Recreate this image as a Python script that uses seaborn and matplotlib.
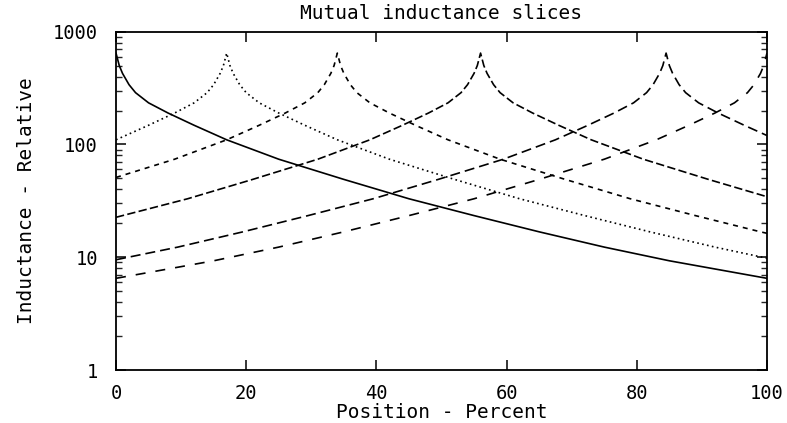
import matplotlib
matplotlib.use("Agg")
import matplotlib.pyplot as plt
import matplotlib.ticker as mticker
import seaborn as sns
import pandas as pd

# ---- data ----
x_a = [0, 0.5, 1, 2, 3, 5, 8, 12, 17, 25, 35, 45, 55, 65, 75, 85, 100]
y_a = [646, 501, 427, 339, 288, 234, 190, 148, 110, 74, 49, 33, 23.4, 16.8, 12.3, 9.3, 6.5]

x_b = [0, 5, 9, 12, 14, 15, 16, 16.5, 17, 17.5, 18, 19, 20, 22, 25, 29, 34, 42, 52, 62, 72, 82, 92, 100]
y_b = [110, 148, 190, 234, 288, 339, 427, 501, 646, 501, 427, 339, 288, 234, 190, 148, 110, 74, 49, 33, 23.4, 16.8, 12.3, 9.8]

x_c = [0, 9, 17, 22, 26, 29, 31, 32, 33, 33.5, 34, 34.5, 35, 36, 37, 39, 42, 46, 51, 59, 69, 79, 89, 99, 100]
y_c = [51, 74, 110, 148, 190, 234, 288, 339, 427, 501, 646, 501, 427, 339, 288, 234, 190, 148, 110, 74, 49, 33, 23.4, 16.8, 16.3]

x_d = [0, 1, 11, 21, 31, 39, 44, 48, 51, 53, 54, 55, 55.5, 56, 56.5, 57, 58, 59, 61, 64, 68, 73, 81, 91, 100]
y_d = [22.6, 23.4, 33, 49, 74, 110, 148, 190, 234, 288, 339, 427, 501, 646, 501, 427, 339, 288, 234, 190, 148, 110, 74, 49, 34.4]

x_e = [0, 9.5, 19.5, 29.5, 39.5, 49.5, 59.5, 67.5, 72.5, 76.5, 79.5, 81.5, 82.5, 83.5, 84, 84.5, 85, 85.5, 86.5, 87.5, 89.5, 92.5, 96.5, 100]
y_e = [9.5, 12.3, 16.8, 23.4, 33, 49, 74, 110, 148, 190, 234, 288, 339, 427, 501, 646, 501, 427, 339, 288, 234, 190, 148, 120]

x_f = [0, 15, 25, 35, 45, 55, 65, 75, 83, 88, 92, 95, 97, 98, 99, 99.5, 100]
y_f = [6.5, 9.3, 12.3, 16.8, 23.4, 33, 49, 74, 110, 148, 190, 234, 288, 339, 427, 501, 646]

x_ticks = [0, 20, 40, 60, 80, 100]
y_ticks = [1, 10, 100, 1000]
y_tick_labels = ["1", "10", "100", "1000"]

series = [(x_a, y_a), (x_b, y_b), (x_c, y_c), (x_d, y_d), (x_e, y_e), (x_f, y_f)]
styles = ["-", (0, (1, 2)), (0, (3, 3)), (0, (5, 2)), (0, (6, 3)), (0, (6, 6))]

sns.set_style("ticks")
plt.rcParams["font.family"] = ["DejaVu Sans Mono"]
plt.rcParams["text.color"] = "black"
plt.rcParams["axes.labelcolor"] = "black"

fig = plt.figure(figsize=(7.87, 4.23), dpi=100)
ax = fig.add_axes([116 / 787, 1 - 370 / 423, (767 - 116) / 787, (370 - 31.7) / 423])

for (xs, ys), ls in zip(series, styles):
    df = pd.DataFrame({"x": xs, "y": ys})
    sns.lineplot(data=df, x="x", y="y", ax=ax, color="black", linewidth=1.2,
                 linestyle=ls, estimator=None, sort=False)

ax.set_yscale("log")
ax.set_xlim(0, 100)
ax.set_ylim(1, 1000)
ax.set_xticks(x_ticks)
ax.set_xticklabels([str(t) for t in x_ticks])
ax.set_yticks(y_ticks)
ax.set_yticklabels(y_tick_labels)
ax.yaxis.set_minor_locator(mticker.LogLocator(base=10, subs=range(2, 10)))
ax.yaxis.set_minor_formatter(mticker.NullFormatter())

ax.tick_params(axis="both", which="major", direction="in", length=7, width=1.1,
               top=True, right=True, labelsize=13.5, colors="black")
ax.tick_params(axis="y", which="minor", direction="in", length=4, width=1.0,
               right=True, left=True)
ax.tick_params(axis="y", which="major", pad=13)
ax.tick_params(axis="x", which="major", pad=10)

for sp in ax.spines.values():
    sp.set_linewidth(1.3)
    sp.set_color("black")

ax.set_title("Mutual inductance slices", fontsize=14, pad=9, color="black")
ax.set_xlabel("Position - Percent", fontsize=14, labelpad=0, color="black")
ax.set_ylabel("Inductance - Relative", fontsize=14, labelpad=12, color="black")

fig.savefig("out.png", dpi=100)
